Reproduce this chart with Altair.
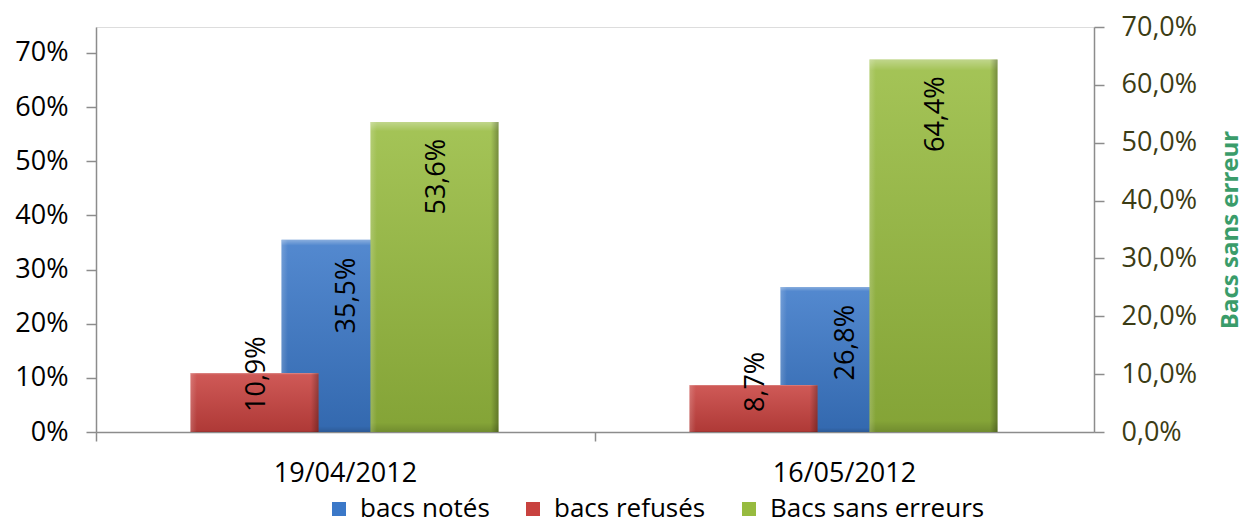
import altair as alt
import pandas as pd

# ---- data ----
dates = ["19/04/2012", "16/05/2012"]
series_names = ["bacs notés", "bacs refusés", "Bacs sans erreurs"]
bacs_notes = [0.355, 0.268]
bacs_refuses = [0.109, 0.087]
bacs_sans_erreurs = [0.536, 0.644]
series_colors = ["#3b78c8", "#c8423f", "#97bb3f"]
left_ticks = [0.0, 0.1, 0.2, 0.3, 0.4, 0.5, 0.6, 0.7]
right_ticks = [0.0, 0.1, 0.2, 0.3, 0.4, 0.5, 0.6, 0.7]
left_max = 0.748
right_max = 0.70
right_title = "Bacs sans erreur"

rows = []
for name, vals in zip(series_names, [bacs_notes, bacs_refuses, bacs_sans_erreurs]):
    for d, v in zip(dates, vals):
        rows.append({"date": d, "series": name, "value": v})
df = pd.DataFrame(rows)

FONT = "Open Sans"
GRAY = "#8c8c8c"
BAR_W = 128
OFF = {"bacs notés": 0, "bacs refusés": -91, "Bacs sans erreurs": 89}
PLOT_H = 405

base = alt.Chart(df).transform_calculate(
    label="replace(format(datum.value, '.1%'), '.', ',')"
)

x_enc = alt.X(
    "date:N",
    sort=dates,
    scale=alt.Scale(domain=dates, paddingInner=0, paddingOuter=0),
    axis=alt.Axis(
        title=None, bandPosition=0, labelAngle=0,
        tickSize=9, labelPadding=19, labelFontSize=27, labelFont=FONT,
        labelColor="black", domainColor=GRAY, tickColor=GRAY,
        domainWidth=1.5, tickWidth=1.5, labelBound=False, labelOverlap=False,
        labelBaseline="top",
    ),
)

color_scale = alt.Scale(domain=series_names, range=series_colors)
legend = alt.Legend(
    orient="none", legendX=230, legendY=469, direction="horizontal",
    title=None, symbolType="square", symbolSize=196, symbolStrokeWidth=0,
    labelFontSize=26, labelFont=FONT, labelColor="black", columnPadding=30,
    labelOffset=8, padding=0, symbolOpacity=1, labelLimit=0,
)

left_axis = alt.Axis(
    orient="left", values=left_ticks, format=".0%", title=None, tickSize=10,
    labelPadding=18, labelFontSize=27, labelFont=FONT, labelColor="black",
    domainColor=GRAY, tickColor=GRAY, domainWidth=1.5, tickWidth=1.5,
    grid=False, labelBaseline="middle",
)
right_axis = alt.Axis(
    orient="right", values=right_ticks,
    labelExpr="replace(format(datum.value, '.1%'), '.', ',')",
    title=right_title, titleAngle=270, titleX=136, titleY=PLOT_H / 2,
    titleAlign="center", titleBaseline="middle", titleFont=FONT,
    titleFontSize=24, titleFontWeight="bold", titleColor="#3a9c6a",
    tickSize=10, labelPadding=17, labelFontSize=27, labelFont=FONT,
    labelColor="#3c3c14", domainColor=GRAY, tickColor=GRAY,
    domainWidth=1.5, tickWidth=1.5, grid=False, labelBaseline="middle",
)

vgrad = alt.Gradient(
    gradient="linear", x1=0, y1=0, x2=0, y2=1,
    stops=[
        alt.GradientStop(offset=0, color="rgba(255,255,255,0.40)"),
        alt.GradientStop(offset=0.03, color="rgba(255,255,255,0.12)"),
        alt.GradientStop(offset=0.97, color="rgba(0,0,0,0.12)"),
        alt.GradientStop(offset=1, color="rgba(0,0,0,0.25)"),
    ],
)
hgrad = alt.Gradient(
    gradient="linear", x1=0, y1=0, x2=1, y2=0,
    stops=[
        alt.GradientStop(offset=0, color="rgba(255,255,255,0.18)"),
        alt.GradientStop(offset=0.05, color="rgba(255,255,255,0)"),
        alt.GradientStop(offset=0.94, color="rgba(0,0,0,0)"),
        alt.GradientStop(offset=1, color="rgba(0,0,0,0.28)"),
    ],
)

left_scale = alt.Scale(domain=[0, left_max], nice=False, zero=True)
right_scale = alt.Scale(domain=[0, right_max], nice=False, zero=True)


def bar_layers(name, y_scale, axis, show_legend):
    sub = base.transform_filter(alt.datum.series == name)
    layers = [
        sub.mark_bar(width=BAR_W, xOffset=OFF[name]).encode(
            x=x_enc,
            y=alt.Y("value:Q", scale=y_scale, axis=axis),
            color=alt.Color("series:N", scale=color_scale,
                            legend=legend if show_legend else None),
        )
    ]
    for g in (vgrad, hgrad):
        layers.append(
            sub.mark_bar(width=BAR_W, xOffset=OFF[name], fill=g).encode(
                x=x_enc, y=alt.Y("value:Q", scale=y_scale, axis=None)
            )
        )
    return layers


blue_layers = bar_layers("bacs notés", left_scale, left_axis, True)
red_layers = bar_layers("bacs refusés", left_scale, None, False)
green_layers = bar_layers("Bacs sans erreurs", right_scale, right_axis, False)

txt_props = dict(angle=270, baseline="middle", font=FONT, fontSize=27, color="black")

blue_txt = base.transform_filter(alt.datum.series == "bacs notés").mark_text(
    align="right", dx=-18, xOffset=OFF["bacs notés"] + 1, **txt_props
).encode(x=x_enc, y=alt.Y("value:Q", scale=left_scale, axis=None), text="label:N")

red_txt = base.transform_filter(alt.datum.series == "bacs refusés").mark_text(
    align="left", dx=20, xOffset=OFF["bacs refusés"] + 2, **txt_props
).encode(x=x_enc, y=alt.Y("zero:Q", scale=left_scale, axis=None), text="label:N"
).transform_calculate(zero="0")

green_txt = base.transform_filter(alt.datum.series == "Bacs sans erreurs").mark_text(
    align="right", dx=-17, xOffset=OFF["Bacs sans erreurs"] + 2, **txt_props
).encode(x=x_enc, y=alt.Y("value:Q", scale=right_scale, axis=None), text="label:N")

chart = (
    alt.layer(*blue_layers, *red_layers, *green_layers, blue_txt, red_txt, green_txt)
    .resolve_scale(y="independent")
    .properties(
        width=998, height=PLOT_H,
        padding={"left": 88, "top": 19, "right": 150, "bottom": 92},
        autosize=alt.AutoSizeParams(type="none"),
    )
    .configure_view(stroke=None)
    .configure(font=FONT)
)

chart.save("out.html", embed_options={"renderer": "svg", "actions": False})
